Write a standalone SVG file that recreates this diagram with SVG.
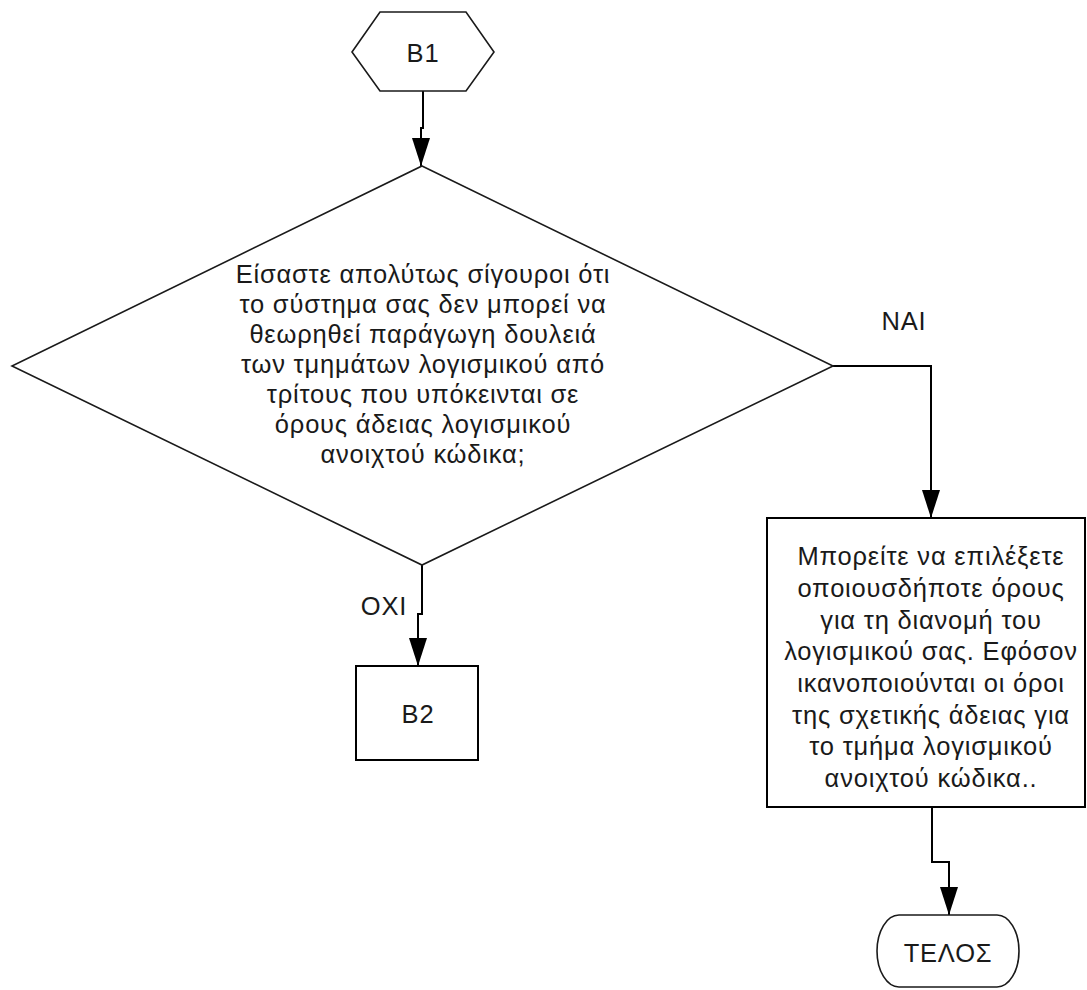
<svg xmlns="http://www.w3.org/2000/svg" width="1087" height="990" viewBox="0 0 1087 990">
<style>
  .shape { fill: #ffffff; stroke: #1a1a1a; stroke-width: 1.6; }
  .box { fill: #ffffff; stroke: #000000; stroke-width: 2; }
  .conn { fill: none; stroke: #000000; stroke-width: 2; }
  text { font-family: "Liberation Sans", Arial, sans-serif; font-size: 25.5px; letter-spacing: 0.8px; fill: #1a1a1a; text-anchor: middle; }
</style>
<defs>
  <marker id="arrow" markerUnits="userSpaceOnUse" markerWidth="28" markerHeight="18" refX="28" refY="9" orient="auto">
    <path d="M0,0 L28,9 L0,18 z" fill="#000000"/>
  </marker>
</defs>
<g id="connectors">
  <path class="conn" d="M423,91 V128 H421 V166" marker-end="url(#arrow)"/>
  <path class="conn" d="M833,366 H931 V518" marker-end="url(#arrow)"/>
  <path class="conn" d="M422,565 V614 H418 V666" marker-end="url(#arrow)"/>
  <path class="conn" d="M932,807 V862 H949 V915" marker-end="url(#arrow)"/>
</g>
<g id="B1">
  <polygon class="shape" points="352,52 380,12 466,12 494,52 466,91 380,91"/>
  <text x="423" y="62">B1</text>
</g>
<g id="decision">
  <polygon class="shape" points="422,166 833,366 422,565 12,366"/>
  <text x="423" y="283">Είσαστε απολύτως σίγουροι ότι</text>
  <text x="423" y="313">το σύστημα σας δεν μπορεί να</text>
  <text x="423" y="343">θεωρηθεί παράγωγη δουλειά</text>
  <text x="423" y="373">των τμημάτων λογισμικού από</text>
  <text x="423" y="403">τρίτους που υπόκεινται σε</text>
  <text x="423" y="433">όρους άδειας λογισμικού</text>
  <text x="423" y="463">ανοιχτού κώδικα;</text>
</g>
<g id="label-nai">
  <text x="904" y="330">NAI</text>
</g>
<g id="label-oxi">
  <text x="384" y="615">OXI</text>
</g>
<g id="B2">
  <rect class="box" x="356" y="666" width="122" height="94"/>
  <text x="418" y="723">B2</text>
</g>
<g id="info">
  <rect class="box" x="767" y="518" width="318" height="289"/>
  <text x="931" y="565">Μπορείτε να επιλέξετε</text>
  <text x="931" y="597">οποιουσδήποτε όρους</text>
  <text x="931" y="629">για τη διανομή του</text>
  <text x="931" y="660">λογισμικού σας. Εφόσον</text>
  <text x="931" y="692">ικανοποιούνται οι όροι</text>
  <text x="931" y="724">της σχετικής άδειας για</text>
  <text x="931" y="755">το τμήμα λογισμικού</text>
  <text x="931" y="787">ανοιχτού κώδικα..</text>
</g>
<g id="end">
  <rect class="shape" x="877" y="915" width="142" height="72" rx="22" ry="36"/>
  <text x="948" y="962">ΤΕΛΟΣ</text>
</g>
</svg>
